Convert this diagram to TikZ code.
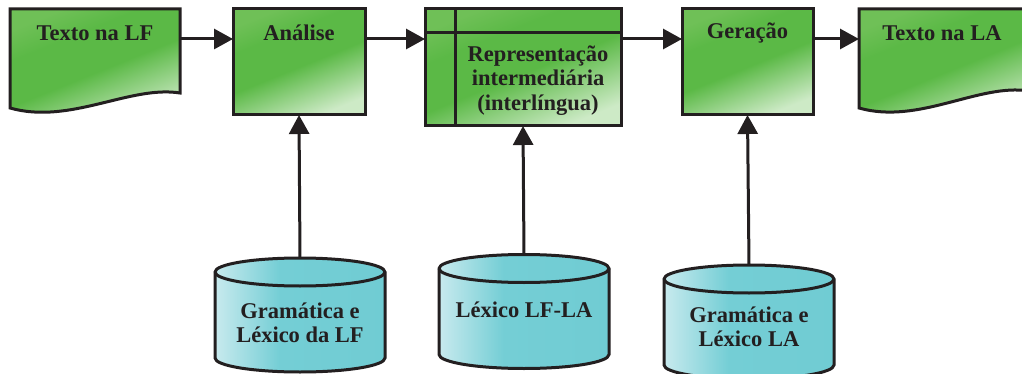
\documentclass[tikz,border=0pt]{standalone}
\usepackage{fontspec}
\setmainfont{Liberation Serif}
\usetikzlibrary{arrows.meta,calc}
\definecolor{gtop}{HTML}{6FC057}
\definecolor{gmid}{HTML}{5BB946}
\definecolor{gbot}{HTML}{CDEAC6}
\definecolor{cleft}{HTML}{C8EAEE}
\definecolor{cmid}{HTML}{74CED5}
\definecolor{cright}{HTML}{6DCAD1}
\definecolor{ink}{HTML}{231F20}
\pgfdeclareverticalshading{gshade}{100bp}{color(0bp)=(gbot); color(25bp)=(gbot);
  color(48bp)=(gmid); color(64bp)=(gmid); color(75bp)=(gtop); color(100bp)=(gtop)}
\pgfdeclarehorizontalshading{cshade}{100bp}{color(0bp)=(cleft); color(25bp)=(cleft);
  color(44bp)=(cmid); color(100bp)=(cright)}
\begin{document}
\begin{tikzpicture}
  [x=1pt,y=1pt,
   ln/.style={draw=ink,line width=3pt},
   gfill/.style={shading=gshade,shading angle=22},
   procbox/.style={rectangle,ln,gfill,outer sep=0pt,inner sep=0pt},
   docbox/.style={rectangle,outer sep=0pt,inner sep=0pt,minimum width=170,minimum height=99},
   dbase/.style={rectangle,outer sep=0pt,inner sep=0pt,minimum width=170,minimum height=114},
   lbl/.style={text=ink,font=\fontsize{22.5}{24.5}\selectfont\bfseries,align=center,inner sep=0pt},
   arr/.style={draw=ink,line width=3pt,-{Triangle[length=19pt,width=20pt]}}]
  \useasboundingbox (0,0) rectangle (1022,-374);

  \node[docbox] (txtlf) at (95,-58.5) {};
  \shadedraw[ln,gfill] (txtlf.north west) -- (txtlf.north east) -- ++(0,-84)
    .. controls +(-50,8) and +(60,-17) .. (txtlf.south west) -- cycle;
  \node[lbl] (txtlfText) at ($(txtlf.north)+(0,-24)$) {Texto na LF};

  \node[procbox,minimum width=132,minimum height=106] (ana) at (299,-62) {};
  \node[lbl] (anaText) at ($(ana.north)+(0,-24)$) {Análise};

  \node[procbox,minimum width=196,minimum height=117] (inter) at (523,-67.5) {};
  \draw[ln] ($(inter.north west)+(30,0)$) -- ($(inter.south west)+(30,0)$)
    ($(inter.north west)+(0,-24)$) -- ($(inter.north east)+(0,-24)$);
  \node[lbl] (interText) at ($(inter.center)+(15,-13)$) {Representação\\intermediária\\(interlíngua)};

  \node[procbox,minimum width=131,minimum height=106] (ger) at (747.5,-62) {};
  \node[lbl] (gerText) at ($(ger.north)+(0,-24)$) {Geração};

  \node[docbox] (txtla) at (944,-58.5) {};
  \shadedraw[ln,gfill] (txtla.north west) -- (txtla.north east) -- ++(0,-82)
    .. controls +(-50,8) and +(60,-17) .. (txtla.south west) -- cycle;
  \node[lbl] (txtlaText) at ($(txtla.north)+(-2,-24)$) {Texto na LA};

  \node[dbase] (lexlf) at (300,-315) {};
  \node[dbase] (lexbi) at (524,-311.5) {};
  \node[dbase] (lexla) at (749,-322) {};
  \foreach \db in {lexlf,lexbi,lexla}{
    \shadedraw[ln,shading=cshade] ($(\db.north west)+(0,-14)$) -- ($(\db.south west)+(0,14)$)
      arc[start angle=180,end angle=360,x radius=85,y radius=14]
      -- ($(\db.north east)+(0,-14)$)
      arc[start angle=0,end angle=180,x radius=85,y radius=14] -- cycle;
    \draw[ln] ($(\db.north west)+(0,-14)$) arc[start angle=180,end angle=360,x radius=85,y radius=14];
  }
  \node[lbl] (lexlfText) at ($(lexlf.center)+(0,-8)$) {Gramática e\\Léxico da LF};
  \node[lbl] (lexbiText) at ($(lexbi.center)+(0,2)$) {Léxico LF-LA};
  \node[lbl] (lexlaText) at ($(lexla.center)+(0,-5)$) {Gramática e\\Léxico LA};

  \draw[arr] ($(txtlf.north east)+(0,-30)$) -- ($(ana.north west)+(0,-30)$);
  \draw[arr] ($(ana.north east)+(0,-30)$) -- ($(inter.north west)+(0,-30)$);
  \draw[arr] ($(inter.north east)+(0,-30)$) -- ($(ger.north west)+(0,-30)$);
  \draw[arr] ($(ger.north east)+(0,-30)$) -- ($(txtla.north west)+(0,-30)$);
  \draw[arr] (lexlf.north) -- (ana.south);
  \draw[arr] (lexbi.north) -- (inter.south);
  \draw[arr] (lexla.north) -- (ger.south);
\end{tikzpicture}
\end{document}
